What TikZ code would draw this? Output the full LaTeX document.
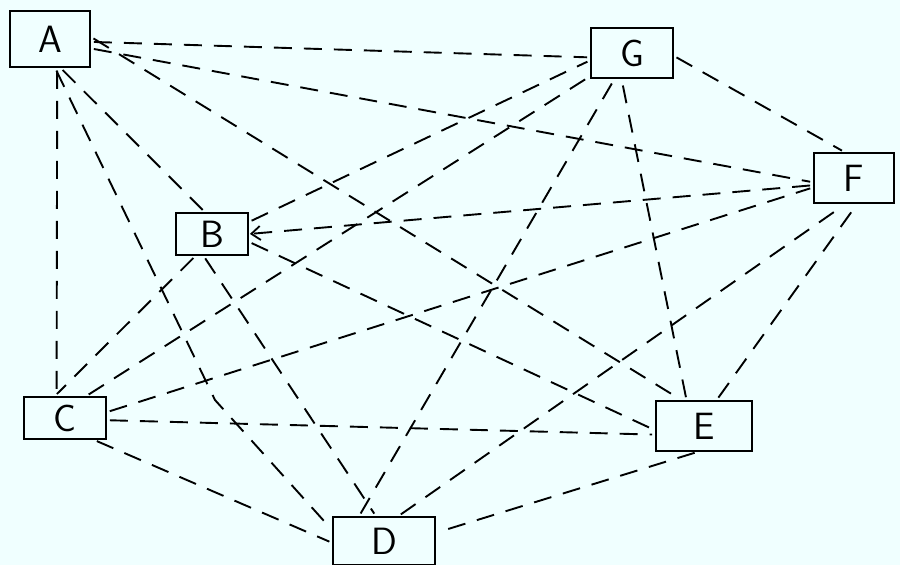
\documentclass[tikz,border=0pt]{standalone}
\usepackage{fontspec}
\usetikzlibrary{arrows.meta}
\definecolor{bgc}{RGB}{240,255,255}
\begin{document}
\begin{tikzpicture}[x=1pt,y=-1pt,
  box/.style={draw=black,line width=1.8pt,inner sep=0pt,font=\fontsize{38}{38}\selectfont\sffamily},
  edge/.style={draw=black,line width=1.9pt,dash pattern=on 18pt off 12pt,shorten <=3pt,shorten >=3pt},
  arr/.style={-{Straight Barb[length=9pt,width=14pt,line width=1.8pt]},shorten >=1pt}]
\fill[bgc] (0,0) rectangle (900,565);
\useasboundingbox (0,0) rectangle (900,565);
\node[box,minimum width=80pt,minimum height=56pt] (A) at (50,39) {A};
\node[box,minimum width=82pt,minimum height=50pt] (G) at (632,53) {G};
\node[box,minimum width=80pt,minimum height=50pt] (F) at (854,178) {F};
\node[box,minimum width=72pt,minimum height=42pt] (B) at (212,234) {B};
\node[box,minimum width=82pt,minimum height=42pt] (C) at (65,418) {C};
\node[box,minimum width=96pt,minimum height=50pt] (E) at (704,426) {E};
\node[box,minimum width=102pt,minimum height=48pt] (D) at (384,541) {D};
\coordinate (ADbend) at (215,400);
% edges
\draw[edge] (A.-4) -- (G.186);
\draw[edge] (A.-13) -- (F.186);
\draw[edge] (A.3) -- (E.131);
\draw[edge] (A.-70) -- (B.108);
\draw[edge] (A.-80) -- (ADbend) -- (D.168);
\draw[edge] (A.-76) -- (C.111);
\draw[edge] (B.18) -- (G.190);
\draw[edge,arr] (F.190) -- (B.0);
\draw[edge] (B.-12) -- (E.185);
\draw[edge] (B.-111) -- (D.108);
\draw[edge] (B.-127) -- (C.115);
\draw[edge] (C.46) -- (G.209);
\draw[edge] (C.8) -- (F.193);
\draw[edge] (C.-3) -- (E.190);
\draw[edge] (C.-37) -- (D.182);
\draw[edge] (D.135) -- (G.-124);
\draw[edge] (D.60) -- (F.-108);
\draw[edge] (E.-104) -- (D.9);
\draw[edge] (E.124) -- (G.-112);
\draw[edge] (E.64) -- (F.-83);
\draw[edge] (G.-4) -- (F.110);
\end{tikzpicture}
\end{document}
